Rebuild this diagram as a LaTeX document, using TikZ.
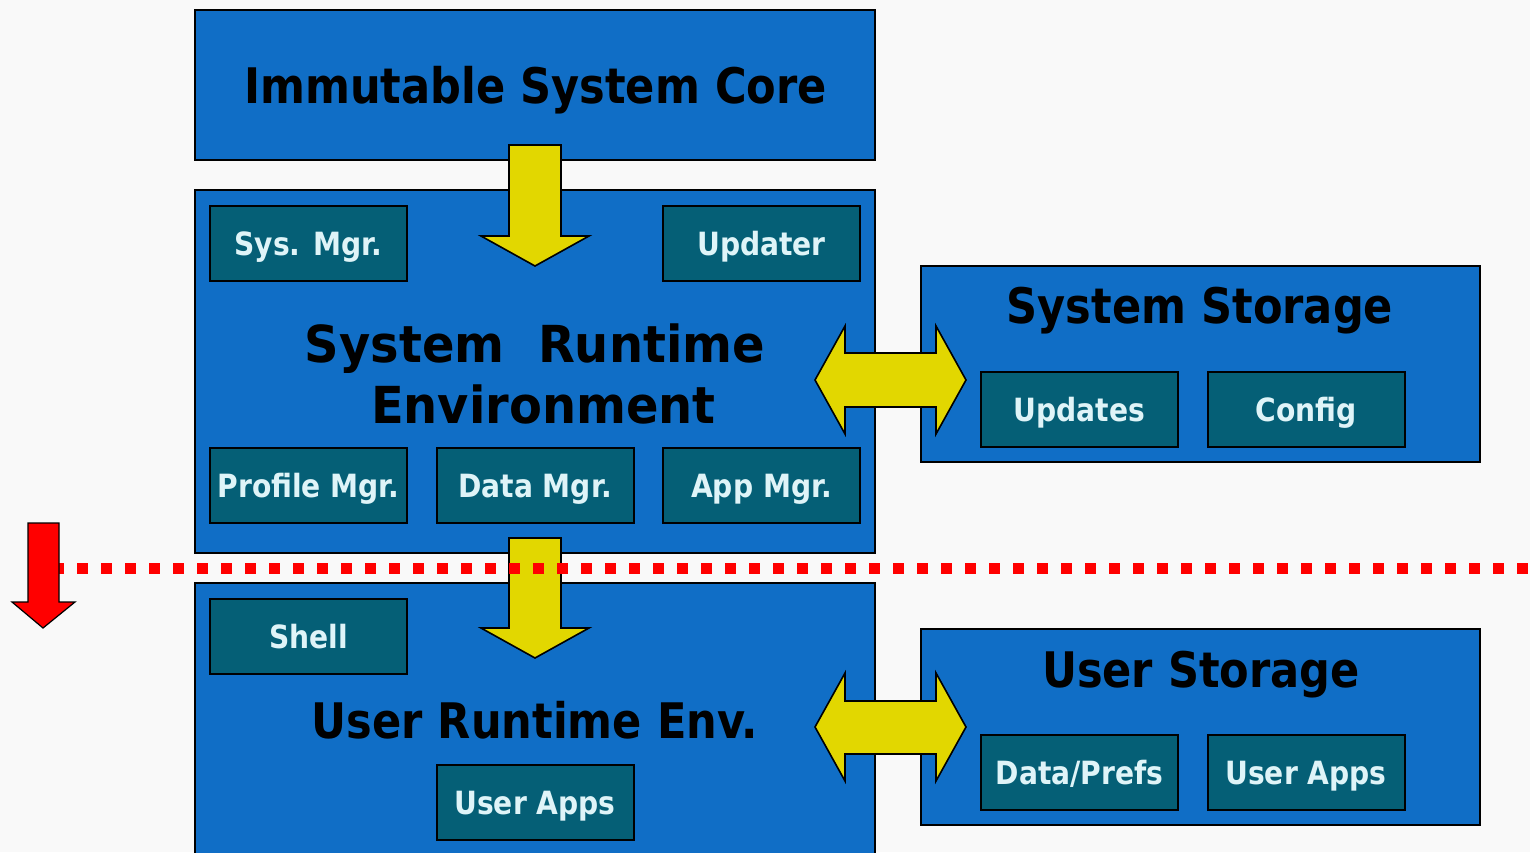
\documentclass[tikz,border=0pt]{standalone}
\usepackage{fontspec}
\newfontfamily\lblfont{DejaVu Sans Bold}[FakeStretch=0.88]
\newfontfamily\widefont{DejaVu Sans Bold}[FakeStretch=0.94]
\definecolor{bgc}{HTML}{F9F9F9}
\definecolor{boxblue}{HTML}{106EC6}
\definecolor{subteal}{HTML}{055F76}
\definecolor{subtext}{HTML}{DFF4F8}
\definecolor{yel}{HTML}{E2D700}
\tikzset{
  bigbox/.style={draw=black, line width=2pt, fill=boxblue, inner sep=0pt},
  subbox/.style={draw=black, line width=2pt, fill=subteal, minimum width=197pt, minimum height=75pt, inner sep=0pt},
  sublabel/.style={anchor=base, text=subtext, inner sep=0pt, font=\lblfont\fontsize{32}{38}\selectfont},
  title/.style={anchor=base, text=black, inner sep=0pt, font=\lblfont\fontsize{49}{60}\selectfont},
  bigtitle/.style={anchor=base, text=black, inner sep=0pt, font=\widefont\fontsize{51}{60}\selectfont},
  yarrow/.style={fill=yel, draw=black, line width=1.6pt, line join=miter},
  rarrow/.style={fill=red, draw=black, line width=1.2pt, line join=miter},
}
\begin{document}
\begin{tikzpicture}[x=1pt,y=-1pt]
\useasboundingbox (0,0) rectangle (1530,852);
\clip (0,0) rectangle (1530,852);
\fill[bgc] (0,0) rectangle (1530,852);

% big boxes
\node[bigbox, minimum width=680pt, minimum height=150pt] (core) at (535,85) {};
\node[bigbox, minimum width=680pt, minimum height=363pt] (sre) at (535,371.5) {};
\node[bigbox, minimum width=680pt, minimum height=290pt] (ure) at (535,728) {};
\node[bigbox, minimum width=559pt, minimum height=196pt] (sst) at (1200.5,364) {};
\node[bigbox, minimum width=559pt, minimum height=196pt] (ust) at (1200.5,727) {};

% titles
\node[title] (tcore) at (535.5,103) {Immutable System Core};
\node[bigtitle] (tsre1) at (535,362) {System\ \ Runtime};
\node[bigtitle] (tsre2) at (543.5,423) {Environment};
\node[title] (tsst) at (1200,323) {System Storage};
\node[title] (ture) at (535,738) {User Runtime Env.};
\node[title] (tust) at (1201,687) {User Storage};

% sub boxes
\node[subbox] (sysmgr) at (308.5,243.5) {};
\node[subbox] (updater) at (761.5,243.5) {};
\node[subbox] (profmgr) at (308.5,485.5) {};
\node[subbox] (datamgr) at (535,485.5) {};
\node[subbox] (appmgr) at (761.5,485.5) {};
\node[subbox] (updates) at (1079.5,409.5) {};
\node[subbox] (config) at (1306,409.5) {};
\node[subbox] (shell) at (308.5,636.5) {};
\node[subbox] (uapps) at (535,802.5) {};
\node[subbox] (dprefs) at (1079.5,772.5) {};
\node[subbox] (uapps2) at (1306,772.5) {};

\node[sublabel] (lsysmgr) at ([yshift=-12pt]sysmgr.center) {Sys. Mgr.};
\node[sublabel] (lupdater) at ([yshift=-12pt]updater.center) {Updater};
\node[sublabel] (lprofmgr) at ([yshift=-12pt]profmgr.center) {Profile Mgr.};
\node[sublabel] (ldatamgr) at ([yshift=-12pt]datamgr.center) {Data Mgr.};
\node[sublabel] (lappmgr) at ([yshift=-12pt]appmgr.center) {App Mgr.};
\node[sublabel] (lupdates) at ([yshift=-12pt]updates.center) {Updates};
\node[sublabel] (lconfig) at ([yshift=-12pt]config.center) {Config};
\node[sublabel] (lshell) at ([yshift=-12pt]shell.center) {Shell};
\node[sublabel] (luapps) at ([yshift=-12pt]uapps.center) {User Apps};
\node[sublabel] (ldprefs) at ([yshift=-12pt]dprefs.center) {Data/Prefs};
\node[sublabel] (luapps2) at ([yshift=-12pt]uapps2.center) {User Apps};

% yellow down arrows
\draw[yarrow] (509,145) -- (561,145) -- (561,236) -- (589,236) -- (535,266) -- (481,236) -- (509,236) -- cycle;
\draw[yarrow] (509,538) -- (561,538) -- (561,628) -- (589,628) -- (535,658) -- (481,628) -- (509,628) -- cycle;

% yellow double arrows
\draw[yarrow] (815,380) -- (845,326) -- (845,353) -- (936,353) -- (936,326) -- (966,380) -- (936,434) -- (936,407) -- (845,407) -- (845,434) -- cycle;
\draw[yarrow] (815,727) -- (845,673) -- (845,701) -- (936,701) -- (936,673) -- (966,727) -- (936,781) -- (936,754) -- (845,754) -- (845,781) -- cycle;

% red dotted line
\draw[red, line width=11pt, dash pattern=on 11pt off 13pt] (53,568) -- (1535,568);

% red arrow
\draw[rarrow] (28,523) -- (59,523) -- (59,602) -- (75,602) -- (43,628) -- (12,602) -- (28,602) -- cycle;
\end{tikzpicture}
\end{document}
